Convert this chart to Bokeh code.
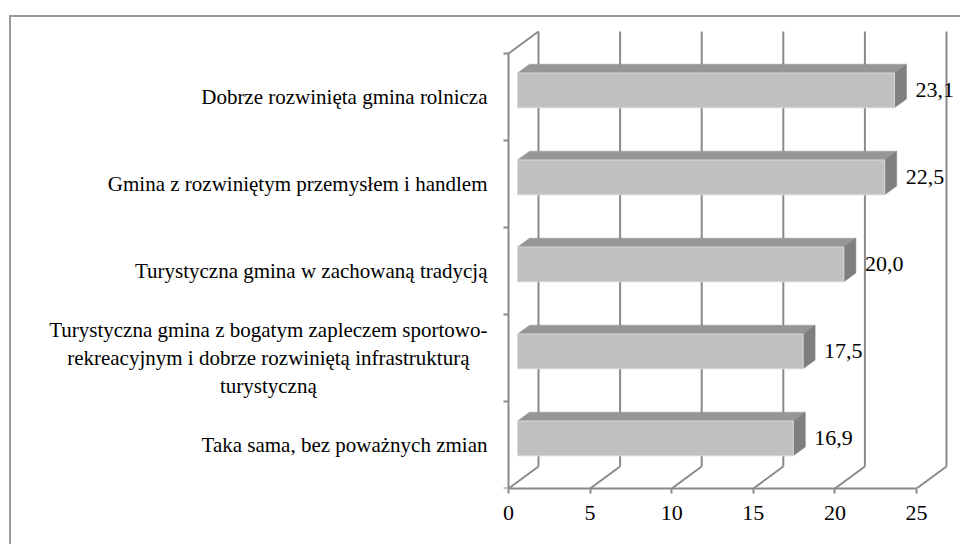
from bokeh.plotting import figure
from bokeh.models import FixedTicker, Range1d, ColumnDataSource, InlineStyleSheet
from bokeh.embed import file_html
from bokeh.resources import INLINE
from bokeh.core.properties import value

# ---- data ----
categories = [
    "Taka sama, bez poważnych zmian",
    "Turystyczna gmina z bogatym zapleczem sportowo-\nrekreacyjnym i dobrze rozwiniętą infrastrukturą\nturystyczną",
    "Turystyczna gmina w zachowaną tradycją",
    "Gmina z rozwiniętym przemysłem i handlem",
    "Dobrze rozwinięta gmina rolnicza",
]
values = [16.9, 17.5, 20.0, 22.5, 23.1]
x_ticks = [0, 5, 10, 15, 20, 25]
x_max = 25

# ---- style / geometry constants ----
FONT = "Liberation Serif"
GRAY = "#8a8a8a"
PX_X = 16.32          # pixels per value unit
PX_Y = 87.0           # pixels per category band
DX = 30 / PX_X        # depth offset (value units)
DY = 22 / PX_Y        # depth offset (band units)
F0, F1 = 0.3, 0.7     # bar depth (front / back fraction)
BAR_H = 0.40
LEFT_PAD = 20         # canvas px left of the frame
AXIS_X = 508          # canvas px of the value axis origin

n = len(categories)
value_labels = [f"{v:.1f}".replace(".", ",") for v in values]

border_css = InlineStyleSheet(css="""
:host { position: relative; }
:host::after {
  content: ""; position: absolute; left: 8.5px; top: 15px; right: 0; bottom: 0;
  border-left: 2px solid #9a9a9a; border-top: 2px solid #9a9a9a;
  border-right: 0; border-bottom: 0;
  pointer-events: none; z-index: 10;
}
""")

p = figure(width=960, height=544, output_backend="svg", toolbar_location=None,
           x_range=Range1d(-(AXIS_X - LEFT_PAD) / PX_X, (958 - AXIS_X) / PX_X),
           y_range=Range1d(0, 462 / PX_Y),
           min_border_left=LEFT_PAD, min_border_right=2, min_border_top=26,
           min_border_bottom=56)
p.stylesheets = [border_css]
p.outline_line_color = None
p.xgrid.visible = False
p.ygrid.visible = False
p.background_fill_color = "white"
p.border_fill_color = "white"

# ---- back wall grid, floor and left wall edges ----
bx0 = [t + DX for t in x_ticks]
p.segment(x0=bx0, y0=[DY] * len(x_ticks), x1=bx0, y1=[n + DY] * len(x_ticks),
          line_color=GRAY, line_width=2)
p.segment(x0=x_ticks, y0=[0] * len(x_ticks), x1=bx0, y1=[DY] * len(x_ticks),
          line_color=GRAY, line_width=2)
p.segment(x0=[0], y0=[n], x1=[DX], y1=[n + DY], line_color=GRAY, line_width=2)

# ---- 3D bars ----
ys = [i + 0.5 - BAR_H / 2 + F0 * DY for i in range(n)]
d = (F1 - F0)
top_xs, top_ys, side_xs, side_ys = [], [], [], []
for v, b in zip(values, ys):
    t = b + BAR_H
    top_xs.append([F0 * DX, v + F0 * DX, v + F1 * DX, F1 * DX])
    top_ys.append([t, t, t + d * DY, t + d * DY])
    side_xs.append([v + F0 * DX, v + F1 * DX, v + F1 * DX, v + F0 * DX])
    side_ys.append([b, b + d * DY, t + d * DY, t])
p.patches(xs=top_xs, ys=top_ys, fill_color="#969696", line_color="#969696", line_width=0.5)
p.patches(xs=side_xs, ys=side_ys, fill_color="#7f7f7f", line_color="#7f7f7f", line_width=0.5)
src = ColumnDataSource(dict(
    left=[F0 * DX] * n, right=[v + F0 * DX for v in values],
    bottom=ys, top=[b + BAR_H for b in ys],
    lx=[v + F1 * DX for v in values], ly=[b + BAR_H / 2 for b in ys],
    lab=value_labels))
p.quad(left="left", right="right", bottom="bottom", top="top", source=src,
       fill_color="#c0c0c0", line_color="#d8d8d8", line_width=1)

# ---- value labels ----
p.text(x="lx", y="ly", text="lab", source=src, x_offset=9,
       text_font=value(FONT), text_font_size="22px", text_color="black",
       text_align="left", text_baseline="middle")

# ---- category labels (centred lines, block right edge next to the axis) ----
cat_src = ColumnDataSource(dict(x=[0] * n, y=[i + 0.5 for i in range(n)], text=categories))
p.text(x="x", y="y", text="text", source=cat_src, x_offset=-21,
       anchor=value("center_right"), text_align="center", text_baseline="middle",
       text_font=value(FONT), text_font_size="21px", text_color="black",
       text_line_height=1.15)

# ---- axes ----
xa = p.xaxis[0]
xa.ticker = FixedTicker(ticks=x_ticks, minor_ticks=[])
xa.bounds = (0, x_max)
xa.axis_line_color = GRAY
xa.axis_line_width = 2
xa.major_tick_line_color = GRAY
xa.major_tick_line_width = 2
xa.major_tick_out = 5
xa.major_tick_in = 0
xa.minor_tick_out = 0
xa.minor_tick_in = 0
xa.major_label_text_font = FONT
xa.major_label_text_font_size = "22px"
xa.major_label_text_color = "black"
xa.major_label_standoff = 12

ya = p.yaxis[0]
ya.fixed_location = 0
ya.ticker = FixedTicker(ticks=[], minor_ticks=list(range(n + 1)))
ya.bounds = (0, n)
ya.axis_line_color = GRAY
ya.axis_line_width = 2
ya.major_tick_out = 0
ya.major_tick_in = 0
ya.major_label_standoff = 0
ya.minor_tick_line_color = GRAY
ya.minor_tick_line_width = 2
ya.minor_tick_out = 5
ya.minor_tick_in = 0

open("out.html", "w").write(file_html(p, INLINE))
